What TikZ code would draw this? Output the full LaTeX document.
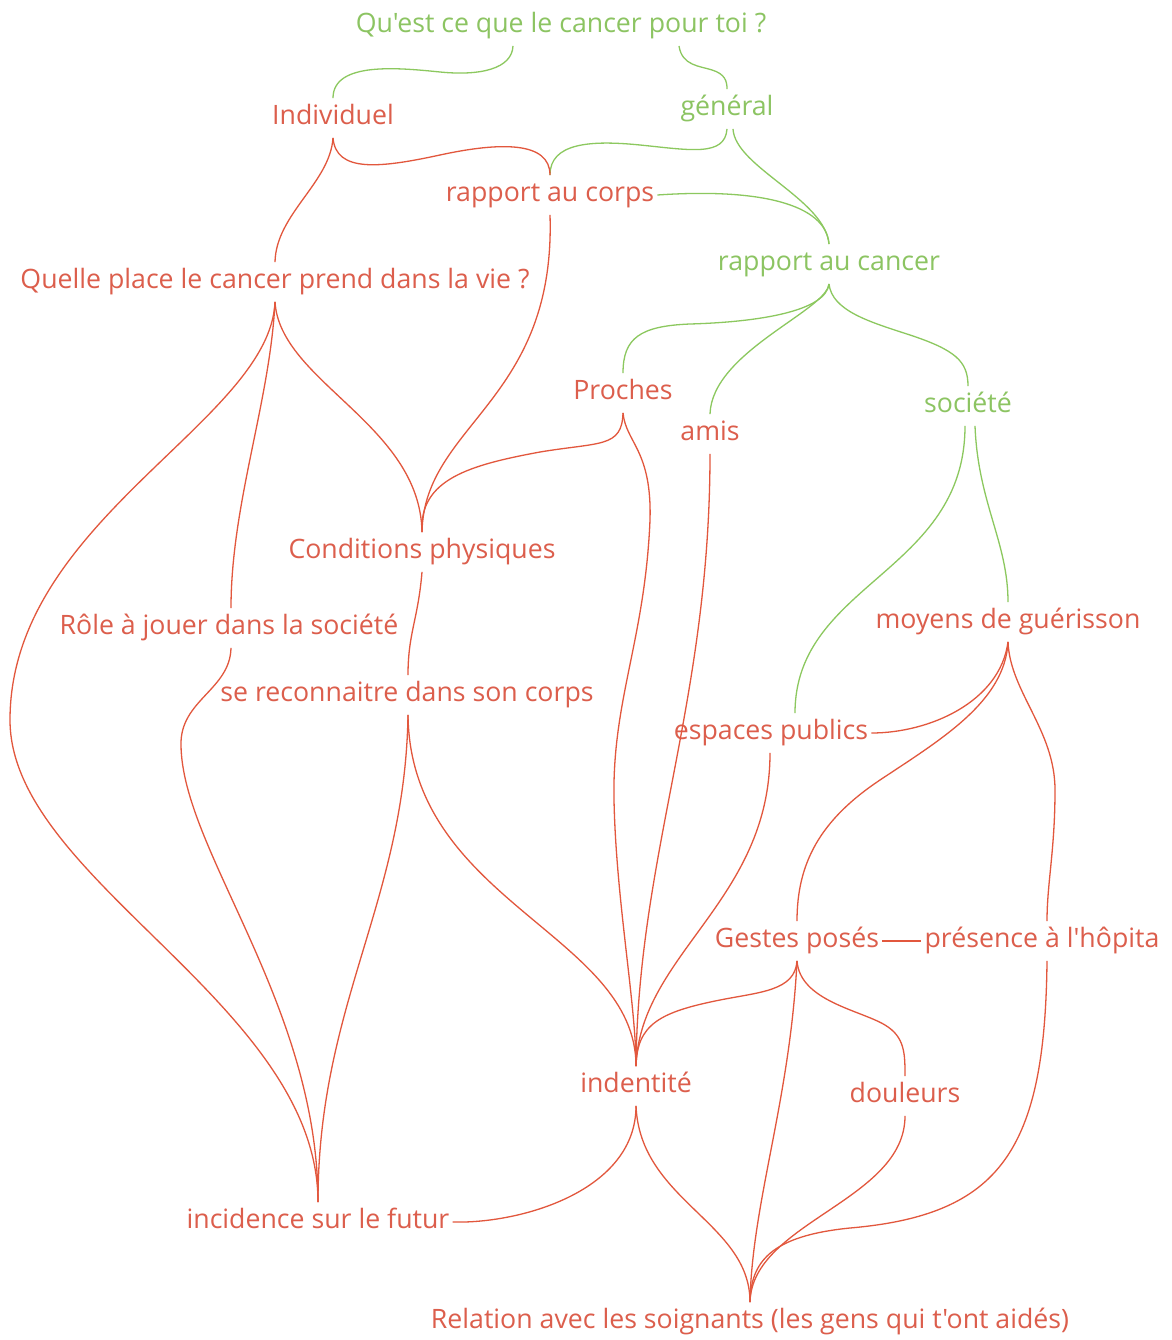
\documentclass[tikz,border=0pt]{standalone}
\usepackage{fontspec}
\newfontfamily\osfont{Open Sans}
\definecolor{txtred}{HTML}{DC5E4C}
\definecolor{txtgreen}{HTML}{8CC462}
\definecolor{linered}{HTML}{E2573D}
\definecolor{linegreen}{HTML}{8CC85F}
\tikzset{
  mmbase/.style={font=\osfont\fontsize{26.7}{32}\selectfont, inner xsep=3pt, inner ysep=7pt, text height=19pt, text depth=6.5pt},
  rt/.style={mmbase, text=txtred},
  gt/.style={mmbase, text=txtgreen},
  rl/.style={draw=linered, line width=1.3pt},
  gl/.style={draw=linegreen, line width=1.3pt}
}
\begin{document}
\begin{tikzpicture}[x=1pt,y=-1pt]
\useasboundingbox[fill=white] (0,0) rectangle (1171,1340);
% nodes
\node[gt] (q) at (561,26) {Qu'est ce que le cancer pour toi ?};
\node[rt] (ind) at (333,118) {Individuel};
\node[gt] (gen) at (727,109) {général};
\node[rt] (corps) at (550,195) {rapport au corps};
\node[gt] (cancer) at (829,264) {rapport au cancer};
\node[rt] (place) at (275,282) {Quelle place le cancer prend dans la vie ?};
\node[rt] (proches) at (623,393) {Proches};
\node[rt] (amis) at (710,434) {amis};
\node[gt] (soc) at (968,406) {société};
\node[rt] (cond) at (422,552) {Conditions physiques};
\node[rt] (role) at (229,628) {Rôle à jouer dans la société};
\node[rt] (moyens) at (1008,622) {moyens de guérisson};
\node[rt] (reco) at (407,695) {se reconnaitre dans son corps};
\node[rt] (esp) at (771,733) {espaces publics};
\node[rt] (gestes) at (797,941) {Gestes posés};
\node[rt] (pres) at (1042,941) {présence à l'hôpita};
\node[rt] (ident) at (636,1086) {indentité};
\node[rt] (doul) at (905,1096) {douleurs};
\node[rt] (inc) at (318,1222) {incidence sur le futur};
\node[rt] (rel) at (750,1322) {Relation avec les soignants (les gens qui t'ont aidés)};
% green connectors
\draw[gl] ([xshift=-48pt]q.south) .. controls +(-1,23) and +(40,4) .. (440,72) .. controls +(-40,-4) and +(0,-37) .. (ind.north);
\draw[gl] ([xshift=118pt]q.south) .. controls +(3,20) and +(-12,-4) .. (712,70) .. controls +(13,4) and +(0,-8) .. (gen.north);
\draw[gl] (gen.south) .. controls +(-2,28) and +(50,5) .. (640,145) .. controls +(-50,-5) and +(0,-32) .. (corps.north);
\draw[gl] ([xshift=6pt]gen.south) .. controls +(2,38) and +(-4,-45) .. (cancer.north);
\draw[gl] (corps.east) .. controls +(102,-7) and +(-3,-40) .. (cancer.north);
\draw[gl] (cancer.south) .. controls +(-3,27) and +(70,-2) .. (690,324) .. controls +(-50,2) and +(0,-35) .. (proches.north);
\draw[gl] (cancer.south) .. controls +(-3,27) and +(2,-62) .. (amis.north);
\draw[gl] (cancer.south) .. controls +(3,27) and +(-40,-13) .. (910,335) .. controls +(45,15) and +(0,-25) .. (soc.north);
\draw[gl] ([xshift=-3pt]soc.south) .. controls +(0,147) and +(0,-130) .. ([xshift=24pt]esp.north);
\draw[gl] ([xshift=7pt]soc.south) .. controls +(3,77) and +(0,-60) .. (moyens.north);
% red connectors
\draw[rl] (ind.south) .. controls +(3,35) and +(-60,13) .. (440,155) .. controls +(60,-13) and +(0,-34) .. (corps.north);
\draw[rl] (ind.south) .. controls +(-3,45) and +(1,-48) .. (place.north);
\draw[rl] (corps.south) .. controls +(6,187) and +(2,-108) .. (cond.north);
\draw[rl] (place.south) .. controls +(5,80) and +(-2,-108) .. (cond.north);
\draw[rl] (proches.south) .. controls +(-1,35) and +(60,-10) .. (540,452) .. controls +(-70,13) and +(-3,-53) .. (cond.north);
\draw[rl] (place.south) .. controls +(-5,100) and +(0,-104) .. ([xshift=2pt]role.north);
\draw[rl] (place.south) .. controls +(-5,120) and +(0,-200) .. (10,720) .. controls +(0,160) and +(0,-198) .. (inc.north);
\draw[rl] ([xshift=2pt]role.south) .. controls +(-1,42) and +(-1,-45) .. (181,745) .. controls +(1,105) and +(0,-198) .. (inc.north);
\draw[rl] (cond.south) .. controls +(-4,48) and +(0,-42) .. ([xshift=1pt]reco.north);
\draw[rl] ([xshift=1pt]reco.south) .. controls +(-3,187) and +(0,-198) .. (inc.north);
\draw[rl] ([xshift=1pt]reco.south) .. controls +(2,187) and +(0,-132) .. (ident.north);
\draw[rl] (proches.south) .. controls +(3,30) and +(2,-70) .. (650,520) .. controls +(-5,120) and +(-2,-100) .. (614,800) .. controls +(2,100) and +(0,-62) .. (ident.north);
\draw[rl] (amis.south) .. controls +(0,248) and +(2,-212) .. (ident.north);
\draw[rl] ([xshift=-1pt]esp.south) .. controls +(0,148) and +(4,-112) .. (ident.north);
\draw[rl] (gestes.south) .. controls +(-2,30) and +(40,-8) .. (720,1000) .. controls +(-60,12) and +(1,-42) .. (ident.north);
\draw[rl] (moyens.south) .. controls +(-8,60) and +(58,0) .. (esp.east);
\draw[rl] (moyens.south) .. controls +(-3,60) and +(60,-40) .. (880,780) .. controls +(-60,40) and +(0,-58) .. (gestes.north);
\draw[rl] (moyens.south) .. controls +(2,50) and +(0,-60) .. (1055,790) .. controls +(0,60) and +(0,-38) .. ([xshift=5pt]pres.north);
\draw[rl] (gestes.east) -- (pres.west);
\draw[rl] (gestes.south) .. controls +(3,40) and +(-25,-15) .. (885,1025) .. controls +(20,12) and +(0,-22) .. (doul.north);
\draw[rl] (gestes.south) .. controls +(-7,140) and +(2,-100) .. (rel.north);
\draw[rl] (ident.south) .. controls +(0,85) and +(68,2) .. (inc.east);
\draw[rl] (ident.south) .. controls +(4,95) and +(0,-80) .. (rel.north);
\draw[rl] (doul.south) .. controls +(0,85) and +(2,-80) .. (rel.north);
\draw[rl] ([xshift=5pt]pres.south) .. controls +(-2,190) and +(150,-13) .. (850,1228) .. controls +(-80,8) and +(1,-40) .. (rel.north);
\end{tikzpicture}
\end{document}
